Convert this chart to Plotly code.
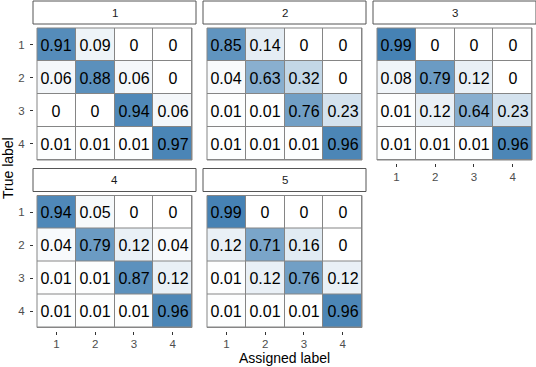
import plotly.graph_objects as go

# class labels and confusion matrices (rows = true label, cols = assigned label)
labels = ["1", "2", "3", "4"]
facets = ["1", "2", "3", "4", "5"]

cm_1 = [[0.91, 0.09, 0, 0],
        [0.06, 0.88, 0.06, 0],
        [0, 0, 0.94, 0.06],
        [0.01, 0.01, 0.01, 0.97]]
cm_2 = [[0.85, 0.14, 0, 0],
        [0.04, 0.63, 0.32, 0],
        [0.01, 0.01, 0.76, 0.23],
        [0.01, 0.01, 0.01, 0.96]]
cm_3 = [[0.99, 0, 0, 0],
        [0.08, 0.79, 0.12, 0],
        [0.01, 0.12, 0.64, 0.23],
        [0.01, 0.01, 0.01, 0.96]]
cm_4 = [[0.94, 0.05, 0, 0],
        [0.04, 0.79, 0.12, 0.04],
        [0.01, 0.01, 0.87, 0.12],
        [0.01, 0.01, 0.01, 0.96]]
cm_5 = [[0.99, 0, 0, 0],
        [0.12, 0.71, 0.16, 0],
        [0.01, 0.12, 0.76, 0.12],
        [0.01, 0.01, 0.01, 0.96]]
matrices = [cm_1, cm_2, cm_3, cm_4, cm_5]

W, H = 536, 367
pos = list(range(1, len(labels) + 1))
zmax = max(max(max(r) for r in m) for m in matrices)

# tile area of each panel in pixels (facet_wrap, 3 columns)
col_left = [37, 207, 377]
row_top = [28, 195.5]
tw, th = 155, 132
pad = 4          # panel expansion between tiles and axis / strip
strip_h = 23

fig = go.Figure()
shapes = []
annotations = []
grey_tick = "#4D4D4D"
border = "#858585"

for k, (name, m) in enumerate(zip(facets, matrices)):
    r, c = divmod(k, 3)
    sx = "" if k == 0 else str(k + 1)
    x0 = col_left[c] / W
    x1 = (col_left[c] + tw) / W
    y1 = 1 - row_top[r] / H
    y0 = 1 - (row_top[r] + th) / H

    fig.add_trace(go.Heatmap(
        z=m, x=pos, y=pos,
        xaxis="x" + sx, yaxis="y" + sx,
        colorscale=[[0, "white"], [1, "steelblue"]],
        zmin=0, zmax=zmax, showscale=False,
        xgap=1, ygap=1,
        texttemplate="%{z}",
        textfont=dict(size=16, color="black", family="Liberation Sans"),
        hoverinfo="skip",
    ))

    show_x = (k >= 3) or (k == 2)
    show_y = (c == 0)
    fig.layout["xaxis" + sx] = dict(
        domain=[x0, x1], range=[0.5, len(labels) + 0.5],
        anchor="free", position=y0 - 3 / H,
        tickvals=pos, ticktext=labels, showticklabels=show_x,
        ticks="outside" if show_x else "", ticklen=3, tickwidth=1, tickcolor="#333",
        tickfont=dict(size=11.5, color=grey_tick),
        showgrid=False, zeroline=False, showline=False,
    )
    fig.layout["yaxis" + sx] = dict(
        domain=[y0, y1], range=[len(labels) + 0.5, 0.5],
        anchor="free", position=x0 - pad / W,
        tickvals=pos, ticktext=labels, showticklabels=show_y,
        ticks="outside" if show_y else "", ticklen=3, tickwidth=1, tickcolor="#333",
        tickfont=dict(size=11.5, color=grey_tick),
        ticklabelstandoff=3,
        showgrid=False, zeroline=False, showline=False,
    )

    # outer tile border
    shapes.append(dict(type="rect", xref="paper", yref="paper",
                       x0=x0, x1=x1, y0=y0, y1=y1,
                       line=dict(color=border, width=1), layer="above"))
    # facet strip
    sy0 = y1 + pad / H
    shapes.append(dict(type="rect", xref="paper", yref="paper",
                       x0=x0 - pad / W, x1=x1 + pad / W, y0=sy0, y1=sy0 + strip_h / H,
                       fillcolor="white", line=dict(color="#555555", width=1)))
    annotations.append(dict(text=name, xref="paper", yref="paper",
                            x=(x0 + x1) / 2, y=sy0 + strip_h / 2 / H,
                            showarrow=False, xanchor="center", yanchor="middle",
                            font=dict(size=11.5, color="#1A1A1A")))

annotations.append(dict(text="Assigned label", xref="paper", yref="paper",
                        x=284 / W, y=1 - 358 / H, showarrow=False,
                        xanchor="center", yanchor="middle",
                        font=dict(size=14, color="black")))
annotations.append(dict(text="True label", xref="paper", yref="paper",
                        x=8 / W, y=1 - 168 / H, showarrow=False, textangle=-90,
                        xanchor="center", yanchor="middle",
                        font=dict(size=14, color="black")))

fig.update_layout(
    width=W, height=H,
    margin=dict(l=0, r=0, t=0, b=0),
    paper_bgcolor="white", plot_bgcolor=border,
    font=dict(family="Liberation Sans"),
    shapes=shapes, annotations=annotations,
)

fig.write_html("out.html", config={"displayModeBar": False},
               post_script="document.body.style.margin='0';")
